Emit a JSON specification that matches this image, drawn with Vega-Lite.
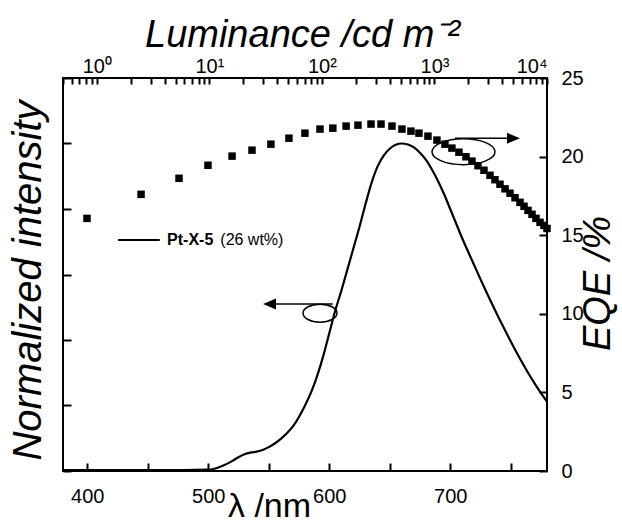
{
  "$schema": "https://vega.github.io/schema/vega-lite/v6.json",
  "width": 484,
  "height": 393,
  "autosize": {"type": "none"},
  "padding": {"left": 63, "top": 78, "right": 75, "bottom": 51},
  "background": "white",
  "config": {
    "view": {"stroke": "black", "strokeWidth": 2},
    "font": "Liberation Sans",
    "axis": {
      "domain": false, "zindex": 1, "ticks": true,
      "tickColor": "black", "tickWidth": 2, "tickOpacity": 1,
      "labelColor": "black", "labelFont": "Liberation Sans", "labelFontSize": 20,
      "titleFont": "Liberation Sans", "titleColor": "black", "titleFontWeight": "normal",
      "grid": false
    }
  },
  "datasets": {
    "spectrum": [
      {"wl": 380, "I": 0.003}, {"wl": 400, "I": 0.003}, {"wl": 420, "I": 0.003}, {"wl": 440, "I": 0.003},
      {"wl": 460, "I": 0.003}, {"wl": 480, "I": 0.003}, {"wl": 500, "I": 0.004}, {"wl": 505, "I": 0.007},
      {"wl": 510, "I": 0.013}, {"wl": 515, "I": 0.021}, {"wl": 520, "I": 0.031}, {"wl": 525, "I": 0.042},
      {"wl": 530, "I": 0.051}, {"wl": 535, "I": 0.056}, {"wl": 540, "I": 0.059}, {"wl": 545, "I": 0.064},
      {"wl": 550, "I": 0.073}, {"wl": 555, "I": 0.084}, {"wl": 560, "I": 0.098}, {"wl": 565, "I": 0.115},
      {"wl": 570, "I": 0.136}, {"wl": 575, "I": 0.165}, {"wl": 580, "I": 0.2}, {"wl": 585, "I": 0.24},
      {"wl": 590, "I": 0.29}, {"wl": 595, "I": 0.35}, {"wl": 600, "I": 0.42}, {"wl": 605, "I": 0.49},
      {"wl": 610, "I": 0.55}, {"wl": 615, "I": 0.615}, {"wl": 620, "I": 0.68}, {"wl": 625, "I": 0.745},
      {"wl": 630, "I": 0.815}, {"wl": 635, "I": 0.88}, {"wl": 640, "I": 0.93}, {"wl": 645, "I": 0.963},
      {"wl": 650, "I": 0.984}, {"wl": 655, "I": 0.996}, {"wl": 660, "I": 1.0}, {"wl": 665, "I": 0.997},
      {"wl": 670, "I": 0.988}, {"wl": 675, "I": 0.972}, {"wl": 680, "I": 0.95}, {"wl": 685, "I": 0.92},
      {"wl": 690, "I": 0.885}, {"wl": 695, "I": 0.845}, {"wl": 700, "I": 0.8}, {"wl": 705, "I": 0.755},
      {"wl": 710, "I": 0.71}, {"wl": 715, "I": 0.668}, {"wl": 720, "I": 0.627}, {"wl": 725, "I": 0.586},
      {"wl": 730, "I": 0.546}, {"wl": 735, "I": 0.507}, {"wl": 740, "I": 0.469}, {"wl": 745, "I": 0.432},
      {"wl": 750, "I": 0.396}, {"wl": 755, "I": 0.361}, {"wl": 760, "I": 0.328}, {"wl": 765, "I": 0.296},
      {"wl": 770, "I": 0.266}, {"wl": 775, "I": 0.238}, {"wl": 780, "I": 0.212}
    ],
    "eqe": [
      {"L": 0.817, "EQE": 16.07}, {"L": 2.47, "EQE": 17.6}, {"L": 5.37, "EQE": 18.62}, {"L": 9.71, "EQE": 19.45},
      {"L": 15.9, "EQE": 20.03}, {"L": 23.9, "EQE": 20.41}, {"L": 35.2, "EQE": 20.79}, {"L": 50.9, "EQE": 21.17},
      {"L": 70.6, "EQE": 21.49}, {"L": 96.1, "EQE": 21.75}, {"L": 125, "EQE": 21.81}, {"L": 164, "EQE": 21.94},
      {"L": 209, "EQE": 22.0}, {"L": 273, "EQE": 22.07}, {"L": 335, "EQE": 22.07}, {"L": 419, "EQE": 21.94},
      {"L": 514, "EQE": 21.75}, {"L": 618, "EQE": 21.62}, {"L": 728, "EQE": 21.49}, {"L": 875, "EQE": 21.3},
      {"L": 1052, "EQE": 21.05}, {"L": 1239, "EQE": 20.79}, {"L": 1429, "EQE": 20.54}, {"L": 1650, "EQE": 20.28},
      {"L": 1905, "EQE": 19.99}, {"L": 2153, "EQE": 19.71}, {"L": 2437, "EQE": 19.42}, {"L": 2754, "EQE": 19.13},
      {"L": 3114, "EQE": 18.81}, {"L": 3449, "EQE": 18.53}, {"L": 3822, "EQE": 18.24}, {"L": 4236, "EQE": 17.95},
      {"L": 4692, "EQE": 17.67}, {"L": 5199, "EQE": 17.38}, {"L": 5757, "EQE": 17.09}, {"L": 6250, "EQE": 16.84},
      {"L": 6780, "EQE": 16.58}, {"L": 7360, "EQE": 16.33}, {"L": 7980, "EQE": 16.07}, {"L": 8670, "EQE": 15.82},
      {"L": 9410, "EQE": 15.62}, {"L": 10000, "EQE": 15.43}
    ]
  },
  "layer": [
    {
      "layer": [
        {
          "data": {"name": "spectrum"},
          "mark": {"type": "line", "color": "black", "strokeWidth": 2.2, "interpolate": "monotone"},
          "encoding": {
            "x": {
              "field": "wl", "type": "quantitative",
              "scale": {"domain": [380, 780], "nice": false, "zero": false},
              "axis": {
                "orient": "bottom", "ticks": true,
                "values": [400, 450, 500, 550, 600, 650, 700, 750],
                "labelExpr": "datum.value % 100 === 0 ? datum.label : ''",
                "offset": -8, "tickSize": 8,
                "labelPadding": 15,
                "title": "λ /nm", "titleFontSize": 34,
                "titleX": 206, "titleY": 53, "titleBaseline": "alphabetic", "titleAlign": "center", "titleAnchor": null
              }
            },
            "y": {
              "field": "I", "type": "quantitative",
              "scale": {"domain": [0, 1.2], "nice": false, "zero": false},
              "axis": {
                "orient": "left", "ticks": true,
                "values": [0, 0.1, 0.2, 0.3, 0.4, 0.5, 0.6, 0.7, 0.8, 0.9, 1.0, 1.1, 1.2],
                "labels": false,
                "offset": -8, "tickSize": 8,
                "title": "Normalized intensity", "titleFontSize": 40, "titleFontStyle": "italic",
                "titleAngle": 270, "titleX": -43, "titleY": 202, "titleAlign": "center", "titleBaseline": "middle", "titleAnchor": null
              }
            }
          }
        },
        {
          "data": {"values": [{"wl": 425.5, "wl2": 460, "I": 0.705}]},
          "mark": {"type": "rule", "color": "black", "strokeWidth": 2},
          "encoding": {
            "x": {"field": "wl", "type": "quantitative"},
            "x2": {"field": "wl2"},
            "y": {"field": "I", "type": "quantitative"}
          }
        },
        {
          "data": {"values": [{"wl": 466, "I": 0.705, "t": "Pt-X-5"}]},
          "mark": {"type": "text", "align": "left", "baseline": "middle", "fontSize": 16, "fontWeight": "bold", "color": "black", "font": "Liberation Sans"},
          "encoding": {
            "x": {"field": "wl", "type": "quantitative"},
            "y": {"field": "I", "type": "quantitative"},
            "text": {"field": "t"}
          }
        },
        {
          "data": {"values": [{"wl": 510, "I": 0.705, "t": "(26 wt%)"}]},
          "mark": {"type": "text", "align": "left", "baseline": "middle", "fontSize": 16, "color": "black", "font": "Liberation Sans"},
          "encoding": {
            "x": {"field": "wl", "type": "quantitative"},
            "y": {"field": "I", "type": "quantitative"},
            "text": {"field": "t"}
          }
        },
        {
          "data": {"values": [{"wl": 548, "wl2": 603, "I": 0.51}]},
          "mark": {"type": "rule", "color": "black", "strokeWidth": 1.5},
          "encoding": {
            "x": {"field": "wl", "type": "quantitative"},
            "x2": {"field": "wl2"},
            "y": {"field": "I", "type": "quantitative"}
          }
        },
        {
          "data": {"values": [{"wl": 545.3, "I": 0.51}]},
          "mark": {"type": "point", "shape": "M0,0 L1,-0.42 L1,0.42 Z", "size": 676, "filled": true, "color": "black", "opacity": 1},
          "encoding": {
            "x": {"field": "wl", "type": "quantitative"},
            "y": {"field": "I", "type": "quantitative"}
          }
        },
        {
          "data": {"values": [{"wl": 592.4, "I": 0.482}]},
          "mark": {"type": "point", "shape": "M-1,0 A1,0.53 0 1,1 1,0 A1,0.53 0 1,1 -1,0 Z", "size": 1156, "filled": false, "stroke": "black", "strokeWidth": 1.5, "opacity": 1},
          "encoding": {
            "x": {"field": "wl", "type": "quantitative"},
            "y": {"field": "I", "type": "quantitative"}
          }
        }
      ]
    },
    {
      "layer": [
        {
          "data": {"name": "eqe"},
          "mark": {"type": "point", "shape": "square", "filled": true, "color": "black", "size": 56, "opacity": 1, "strokeWidth": 0},
          "encoding": {
            "x": {
              "field": "L", "type": "quantitative",
              "scale": {"type": "log", "domain": [0.5, 10000], "nice": false},
              "axis": {
                "orient": "top", "ticks": true,
                "values": [0.5, 0.6, 0.7, 0.8, 0.9, 1, 2, 3, 4, 5, 6, 7, 8, 9, 10, 20, 30, 40, 50, 60, 70, 80, 90, 100, 200, 300, 400, 500, 600, 700, 800, 900, 1000, 2000, 3000, 4000, 5000, 6000, 7000, 8000, 9000, 10000],
                "labelExpr": "abs(log(datum.value)/LN10 - round(log(datum.value)/LN10)) < 0.001 ? '10' + ['⁰','¹','²','³','⁴'][round(log(datum.value)/LN10)] : ''",
                "labelOverlap": false,
                "offset": -6, "tickSize": 6,
                "labelPadding": 2,
                "title": "Luminance /cd m⁻²", "titleFontSize": 38, "titleFontStyle": "italic",
                "titleX": 239, "titleY": -38, "titleBaseline": "alphabetic", "titleAlign": "center", "titleAnchor": null
              }
            },
            "y": {
              "field": "EQE", "type": "quantitative",
              "scale": {"domain": [0, 25], "nice": false, "zero": false},
              "axis": {
                "orient": "right", "ticks": true,
                "values": [0, 2.5, 5, 7.5, 10, 12.5, 15, 17.5, 20, 22.5, 25],
                "labelExpr": "datum.value % 5 === 0 ? datum.label : ''",
                "offset": -8, "tickSize": 8,
                "labelPadding": 14,
                "title": "EQE /%", "titleFontSize": 38, "titleFontStyle": "italic",
                "titleAngle": 270, "titleX": 59, "titleY": 205, "titleAlign": "center", "titleBaseline": "middle", "titleAnchor": null
              }
            }
          }
        },
        {
          "data": {"values": [{"L": 1521, "L2": 5300, "EQE": 21.17}]},
          "mark": {"type": "rule", "color": "black", "strokeWidth": 1.5},
          "encoding": {
            "x": {"field": "L", "type": "quantitative"},
            "x2": {"field": "L2"},
            "y": {"field": "EQE", "type": "quantitative"}
          }
        },
        {
          "data": {"values": [{"L": 5757, "EQE": 21.17}]},
          "mark": {"type": "point", "shape": "M0,0 L-1,-0.42 L-1,0.42 Z", "size": 676, "filled": true, "color": "black", "opacity": 1},
          "encoding": {
            "x": {"field": "L", "type": "quantitative"},
            "y": {"field": "EQE", "type": "quantitative"}
          }
        },
        {
          "data": {"values": [{"L": 1811, "EQE": 20.31}]},
          "mark": {"type": "point", "shape": "M-1,0 A1,0.41 0 1,1 1,0 A1,0.41 0 1,1 -1,0 Z", "size": 3969, "filled": false, "stroke": "black", "strokeWidth": 1.5, "opacity": 1},
          "encoding": {
            "x": {"field": "L", "type": "quantitative"},
            "y": {"field": "EQE", "type": "quantitative"}
          }
        }
      ]
    }
  ],
  "resolve": {"scale": {"x": "independent", "y": "independent"}}
}
